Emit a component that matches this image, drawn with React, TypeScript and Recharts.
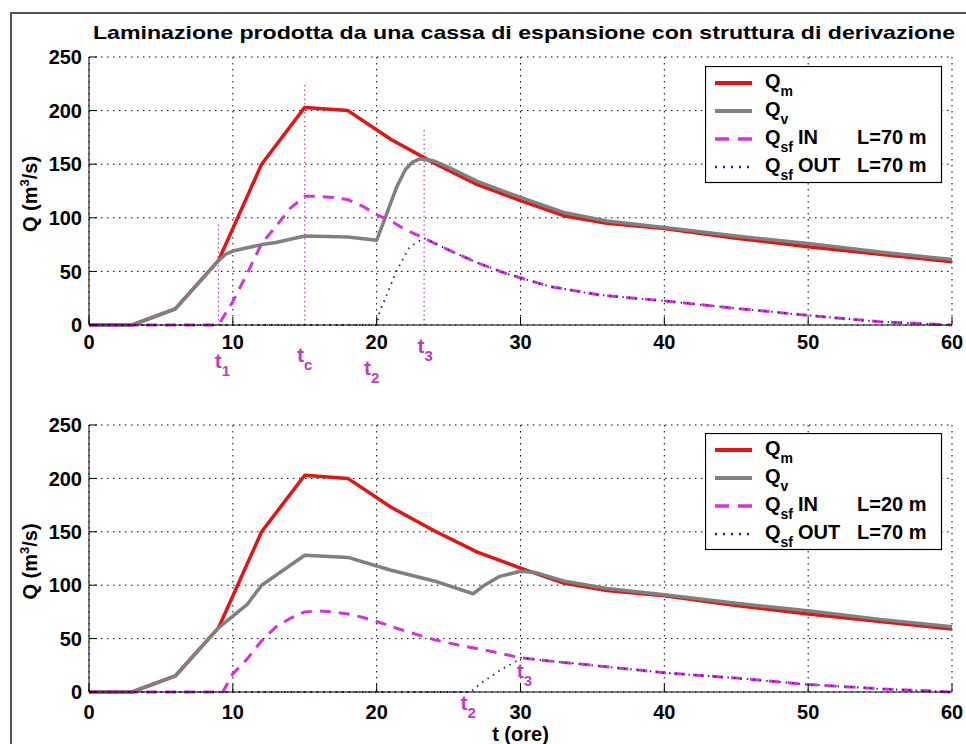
import React from "react";
import { LineChart, Line, XAxis, YAxis, CartesianGrid, ReferenceLine } from "recharts";

const FONT = "'Liberation Sans', Arial, sans-serif";
const RED = "#e21414";
const GREY = "#808080";
const MAGENTA = "#d633d6";
const NAVY = "#20208f";
const T_COLOR = "#c23cc2";

const timeTicks = [0, 10, 20, 30, 40, 50, 60];
const flowTicks = [0, 50, 100, 150, 200, 250];

// Q_m - incoming hydrograph, same in both panels
const qmTime = [0, 3, 6, 9, 12, 15, 18, 21, 24, 27, 30, 33, 36, 40, 45, 50, 55, 60];
const qmFlow = [0, 0, 15, 60, 150, 203, 200, 173, 151, 131, 116, 102, 95, 90, 81, 73, 66, 59];

// upper panel (IN L=70 m)
const qvTimeA = [0, 3, 6, 9, 9.5, 10, 11, 12, 13, 15, 18, 20, 20.7, 21.4, 22, 22.5, 23, 24, 25, 27, 30, 33, 36, 40, 45, 50, 55, 60];
const qvFlowA = [0, 0, 15, 60, 66, 69, 72, 75, 77, 83, 82, 79, 104, 129, 145, 152, 155, 153, 147, 134, 119, 105, 97, 91, 83, 76, 68, 61];
const inTimeA = [0, 9, 10, 11, 12, 13, 14, 15, 16, 17, 18, 19, 20, 21, 22, 23.3, 25, 27, 29, 32, 35.5, 40, 45, 50, 55, 60];
const inFlowA = [0, 0, 22, 48, 76, 92, 109, 120, 120, 119, 117, 111, 103, 97, 89, 81, 70, 58, 48, 36, 28, 22.5, 15.5, 9, 3, 0];
const outTimeA = [0, 20, 20.2, 20.7, 21.4, 22.3, 23.3, 25, 27, 29, 32, 35.5, 40, 45, 50, 55, 60];
const outFlowA = [0, 0, 12, 28, 51, 73, 81, 70, 58, 48, 36, 28, 22.5, 15.5, 9, 3, 0];

// lower panel (IN L=20 m)
const qvTimeB = [0, 3, 6, 9, 10, 11, 12, 15, 18, 21, 24, 26.7, 27.5, 28.5, 30, 31, 33, 36, 40, 45, 50, 55, 60];
const qvFlowB = [0, 0, 15, 60, 71, 82, 100, 128, 126, 114, 104, 92, 100, 108, 113, 112, 104, 97, 91, 83, 76, 68, 61];
const inTimeB = [0, 9.3, 10, 11, 12, 13, 14, 15, 16, 17, 18, 19, 20, 22, 24, 26, 28, 30, 32, 35, 40, 45, 50, 55, 60];
const inFlowB = [0, 0, 17, 31, 48, 61, 69, 75, 76, 75, 73, 70, 66, 57, 49, 43, 38, 32, 29, 25, 18, 13, 7, 3, 0];
const outTimeB = [0, 26.5, 27.4, 28.6, 29.85, 30, 32, 35, 40, 45, 50, 55, 60];
const outFlowB = [0, 0, 9.6, 20.5, 30, 32, 29, 25, 18, 13, 7, 3, 0];

const toPoints = (t: number[], q: number[]) => t.map((x, i) => ({ t: x, q: q[i] }));

type Series = {
  key: string;
  sub: string;
  tag: string;
  length: string;
  color: string;
  width: number;
  dash?: string;
  data: { t: number; q: number }[];
};

const makeSeries = (qv: any[], qin: any[], qout: any[], inLen: string): Series[] => [
  { key: "qm", sub: "m", tag: "", length: "", color: RED, width: 3.5, data: toPoints(qmTime, qmFlow) },
  { key: "qv", sub: "v", tag: "", length: "", color: GREY, width: 3.5, data: qv },
  { key: "in", sub: "sf", tag: "IN", length: inLen, color: MAGENTA, width: 3, dash: "11 8", data: qin },
  { key: "out", sub: "sf", tag: "OUT", length: "L=70 m", color: NAVY, width: 1.8, dash: "1.5 5", data: qout },
];

const seriesA = makeSeries(toPoints(qvTimeA, qvFlowA), toPoints(inTimeA, inFlowA), toPoints(outTimeA, outFlowA), "L=70 m");
const seriesB = makeSeries(toPoints(qvTimeB, qvFlowB), toPoints(inTimeB, inFlowB), toPoints(outTimeB, outFlowB), "L=20 m");

// characteristic times: t, guide top (null = no guide), label
const marksA = [
  { t: 9, top: 96, sub: "1", dx: 4, dy: 43 },
  { t: 15, top: 224, sub: "c", dx: 0, dy: 37 },
  { t: 20, top: null, sub: "2", dx: -5, dy: 50 },
  { t: 23.3, top: 184, sub: "3", dx: 1, dy: 28 },
];
const marksB = [
  { t: 26.3, top: null, sub: "2", dx: 1, dy: 18 },
  { t: 30, top: null, sub: "3", dx: 4, dy: -14 },
];

const tLabel = (sub: string, dx: number, dy: number) => (props: any) => {
  const vb = props.viewBox;
  return (
    <text
      x={vb.x + dx}
      y={vb.y + vb.height + dy}
      textAnchor="middle"
      fill={T_COLOR}
      fontFamily={FONT}
      fontWeight="bold"
      fontSize={21}
    >
      t<tspan fontSize={15} dy={8}>{sub}</tspan>
    </text>
  );
};

const QLabel = (props: any) => {
  const vb = props.viewBox;
  const cx = 37;
  const cy = vb.y + vb.height / 2 + 3;
  return (
    <text
      x={cx}
      y={cy}
      transform={`rotate(-90 ${cx} ${cy})`}
      textAnchor="middle"
      fontFamily={FONT}
      fontWeight="bold"
      fontSize={20}
      fill="#000"
    >
      Q (m<tspan fontSize={13} dy={-8}>3</tspan>
      <tspan dy={8}>/s)</tspan>
    </text>
  );
};

const TimeLabel = (props: any) => {
  const vb = props.viewBox;
  return (
    <text x={vb.x + vb.width / 2} y={vb.y + 49} textAnchor="middle" fontFamily={FONT} fontWeight="bold" fontSize={20} fill="#000">
      t (ore)
    </text>
  );
};

const tickStyle = { fill: "#000", fontSize: 20, fontWeight: "bold", fontFamily: FONT };

function Panel({ series, marks, height, margin, xAxisHeight, tickGap, showTime }: any) {
  return (
    <LineChart width={966} height={height} margin={margin}>
      <CartesianGrid stroke="#000" strokeDasharray="1.5 4.5" />
      {marks
        .filter((m: any) => m.top !== null)
        .map((m: any) => (
          <ReferenceLine
            key={"g" + m.sub}
            segment={[{ x: m.t, y: 0 }, { x: m.t, y: m.top }]}
            stroke={T_COLOR}
            strokeWidth={1.2}
            strokeDasharray="1.5 3"
          />
        ))}
      {series.map((s: Series) => (
        <Line
          key={s.key}
          data={s.data}
          dataKey="q"
          type="linear"
          stroke={s.color}
          strokeWidth={s.width}
          strokeDasharray={s.dash}
          strokeLinejoin="round"
          dot={false}
          activeDot={false}
          isAnimationActive={false}
        />
      ))}
      {marks.map((m: any) => (
        <ReferenceLine key={"l" + m.sub} x={m.t} stroke="none" label={{ content: tLabel(m.sub, m.dx, m.dy) }} />
      ))}
      <XAxis
        dataKey="t"
        type="number"
        domain={[0, 60]}
        ticks={timeTicks}
        interval={0}
        height={xAxisHeight}
        stroke="#000"
        tickSize={-8}
        tickMargin={tickGap}
        tick={tickStyle}
        label={showTime ? { content: TimeLabel } : undefined}
      />
      <XAxis xAxisId="top" orientation="top" dataKey="t" type="number" domain={[0, 60]} ticks={timeTicks} interval={0} height={0} stroke="#000" tickSize={-8} tick={false} />
      <YAxis
        type="number"
        domain={[0, 250]}
        ticks={flowTicks}
        interval={0}
        width={40}
        stroke="#000"
        tickSize={-8}
        tickMargin={15}
        tick={tickStyle}
        label={{ content: QLabel }}
      />
      <YAxis yAxisId="r" orientation="right" type="number" domain={[0, 250]} ticks={flowTicks} interval={0} width={0} stroke="#000" tickSize={-8} tick={false} />
    </LineChart>
  );
}

function LegendBox({ series, left, top }: { series: Series[]; left: number; top: number }) {
  const text = { fontFamily: FONT, fontWeight: "bold" as const, fontSize: 20, fill: "#000" };
  return (
    <svg style={{ position: "absolute", left, top }} width={238} height={118}>
      <rect x={0.5} y={0.5} width={236} height={116} fill="#fff" stroke="#000" strokeWidth={1.2} />
      {series.map((s, i) => {
        const y = 17 + 28 * i;
        return (
          <g key={s.key}>
            <line x1={10} x2={47} y1={y} y2={y} stroke={s.color} strokeWidth={s.width + 0.5} strokeDasharray={s.dash ? (s.key === "in" ? "14 9" : "2 6") : undefined} />
            <text x={60} y={y + 5} {...text}>
              Q<tspan fontSize={14} dy={8}>{s.sub}</tspan>
            </text>
            {s.tag && <text x={93} y={y + 5} {...text}>{s.tag}</text>}
            {s.length && <text x={152} y={y + 5} {...text}>{s.length}</text>}
          </g>
        );
      })}
    </svg>
  );
}

export default function App() {
  return (
    <div style={{ position: "absolute", left: 0, top: 0, width: 966, height: 744, background: "#fff", overflow: "hidden" }}>
      <div style={{ position: "absolute", left: 10, top: 12, width: 966, height: 744, borderTop: "2px solid #555", borderLeft: "2px solid #555" }} />
      <svg style={{ position: "absolute", left: 0, top: 0 }} width={966} height={50}>
        <text x={93} y={39} textLength={862} lengthAdjust="spacingAndGlyphs" fontFamily={FONT} fontWeight="bold" fontSize={19} fill="#000">
          Laminazione prodotta da una cassa di espansione con struttura di derivazione
        </text>
      </svg>
      <div style={{ position: "absolute", left: 0, top: 370 }}>
        <Panel series={seriesB} marks={marksB} height={374} margin={{ top: 55, right: 14, bottom: 4, left: 49 }} xAxisHeight={48} tickGap={21} showTime={true} />
      </div>
      <div style={{ position: "absolute", left: 0, top: 0 }}>
        <Panel series={seriesA} marks={marksA} height={395} margin={{ top: 57, right: 14, bottom: 40, left: 49 }} xAxisHeight={30} tickGap={18} showTime={false} />
      </div>
      <LegendBox series={seriesA} left={705} top={66} />
      <LegendBox series={seriesB} left={705} top={433} />
    </div>
  );
}
